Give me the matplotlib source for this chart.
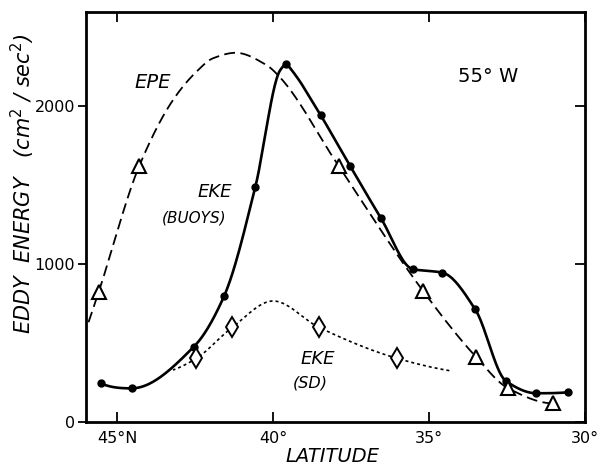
import numpy as np
import matplotlib
matplotlib.use('Agg')
import matplotlib.pyplot as plt

# EKE from buoys (filled dots)
eke_lat = [45.53, 44.54, 42.54, 41.57, 40.57, 39.58, 38.48, 37.53, 36.54, 35.53, 34.57, 33.52, 32.54, 31.56, 30.55]
eke_val = [243, 211, 475, 796, 1487, 2262, 1941, 1618, 1287, 966, 943, 711, 258, 180, 186]
# solid curve traced through the dots (sharp turn at the peak)
eke_curve_lat = [45.53, 44.54, 42.54, 41.57, 40.57, 39.77, 39.58, 39.41, 38.48, 37.53, 36.54, 35.53, 34.57, 33.52, 32.54, 31.56, 30.55]
eke_curve_val = [243, 211, 475, 796, 1487, 2226, 2262, 2226, 1941, 1618, 1287, 966, 943, 711, 258, 180, 186]

# EPE (open triangles) and the dashed curve
epe_lat = [45.59, 44.29, 37.9, 35.2, 33.5, 32.46, 31.02]
epe_val = [823, 1620, 1618, 829, 411, 211, 116]
epe_curve_lat = [45.96, 45.59, 44.29, 43.21, 42.46, 41.93, 41.2, 40.22, 39.8, 37.9, 35.2, 33.5, 32.46, 31.02]
epe_curve_val = [606, 823, 1620, 2036, 2215, 2300, 2335, 2258, 2184, 1618, 829, 411, 211, 116]

# EKE from SD (open diamonds) and the dotted curve
sd_lat = [42.46, 41.31, 38.53, 36.03]
sd_val = [401, 597, 597, 401]
sd_curve_lat = [43.21, 42.46, 41.31, 40.0, 38.53, 36.03, 34.35]
sd_curve_val = [327, 401, 597, 764, 597, 401, 323]

xticks = [45, 40, 35, 30]
xlabels = ['45°N', '40°', '35°', '30°']
yticks = [0, 1000, 2000]


def pchip(xs, ys, n=500):
    # shape-preserving cubic through the points (like the drafted curves)
    x = np.array(xs, float)
    y = np.array(ys, float)
    o = np.argsort(x)
    x, y = x[o], y[o]
    h = np.diff(x)
    d = np.diff(y) / h
    m = np.zeros_like(x)
    for k in range(1, len(x) - 1):
        if d[k - 1] * d[k] > 0:
            w1 = 2 * h[k] + h[k - 1]
            w2 = h[k] + 2 * h[k - 1]
            m[k] = (w1 + w2) / (w1 / d[k - 1] + w2 / d[k])

    def edge(h0, h1, d0, d1):
        mm = ((2 * h0 + h1) * d0 - h0 * d1) / (h0 + h1)
        if np.sign(mm) != np.sign(d0):
            mm = 0.0
        elif np.sign(d0) != np.sign(d1) and abs(mm) > abs(3 * d0):
            mm = 3 * d0
        return mm
    m[0] = edge(h[0], h[1], d[0], d[1])
    m[-1] = edge(h[-1], h[-2], d[-1], d[-2])
    xx = np.linspace(x[0], x[-1], n)
    i = np.clip(np.searchsorted(x, xx) - 1, 0, len(x) - 2)
    t = (xx - x[i]) / h[i]
    yy = ((2 * t**3 - 3 * t**2 + 1) * y[i] + (t**3 - 2 * t**2 + t) * h[i] * m[i]
          + (-2 * t**3 + 3 * t**2) * y[i + 1] + (t**3 - t**2) * h[i] * m[i + 1])
    return xx, yy


fig = plt.figure(figsize=(6.01, 4.66), dpi=100)
ax = fig.add_axes([0.1431, 0.0951, 0.8303, 0.8791])

x, y = pchip(epe_curve_lat, epe_curve_val)
ax.plot(x, y, color='black', lw=1.3, linestyle=(0, (6, 3)))
x, y = pchip(sd_curve_lat, sd_curve_val)
ax.plot(x, y, color='black', lw=1.2, linestyle=(0, (1.8, 1.8)))
x, y = pchip(eke_curve_lat, eke_curve_val)
ax.plot(x, y, color='black', lw=1.9)

ax.plot(eke_lat, eke_val, 'o', color='black', ms=5)
ax.plot(epe_lat, epe_val, '^', mfc='white', mec='black', mew=1.5, ms=10)
ax.plot(sd_lat, sd_val, 'd', mfc='white', mec='black', mew=1.4, ms=10)

ax.set_xlim(46, 30)
ax.set_ylim(0, 2593)
ax.set_xticks(xticks)
ax.set_xticklabels(xlabels, fontsize=11.5)
ax.set_yticks(yticks)
ax.set_yticklabels([str(v) for v in yticks], fontsize=11.5)
ax.tick_params(axis='x', direction='in', top=True, length=7, width=1.3, pad=7)
ax.tick_params(axis='y', direction='out', length=6, width=1.3, pad=2)
for s in ax.spines.values():
    s.set_linewidth(2)

ax2 = ax.twinx()
ax2.set_ylim(0, 2593)
ax2.set_yticks(yticks)
ax2.tick_params(axis='y', direction='in', length=7, width=1.3, labelright=False)
for s in ax2.spines.values():
    s.set_visible(False)


def lab(px, py, s, size, style='italic', rot=0):
    fig.text(px / 601, 1 - py / 466, s, fontsize=size, style=style,
             ha='center', va='center', rotation=rot)


lab(332, 457, 'LATITUDE', 14)
lab(23, 184, 'EDDY  ENERGY   (cm$^2$ / sec$^2$)', 15, rot=90)
lab(153, 82, 'EPE', 14)
lab(215, 192, 'EKE', 13)
lab(194, 218, '(BUOYS)', 11)
lab(318, 359, 'EKE', 13)
lab(310, 383, '(SD)', 11.5)
lab(488, 77, '55° W', 14, style='normal')

fig.savefig('out.png', dpi=100)
